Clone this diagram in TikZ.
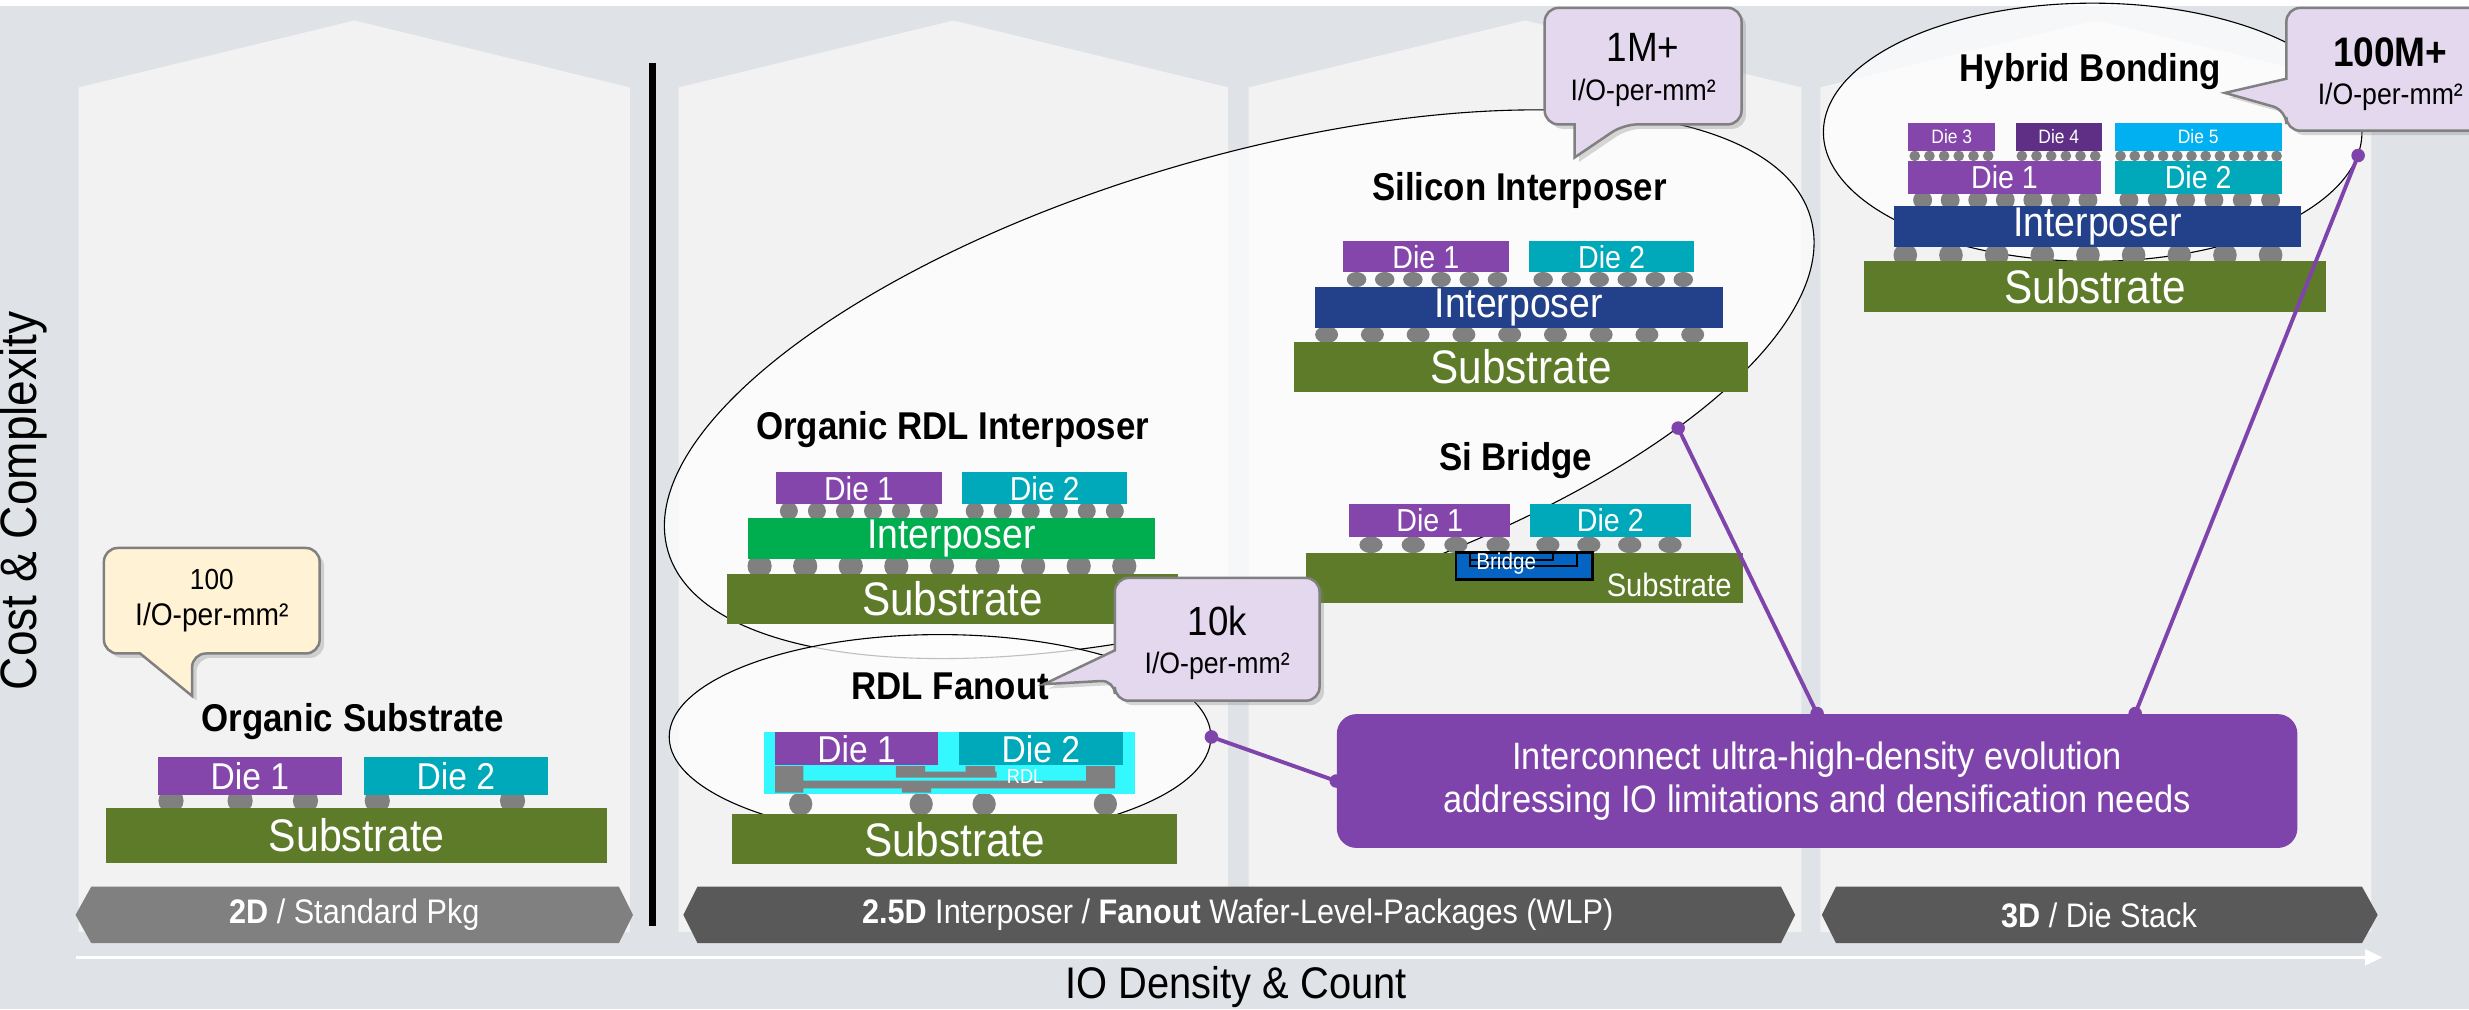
\documentclass[tikz,border=0pt]{standalone}
\usepackage{fontspec}
\setmainfont[FakeStretch=0.9]{Liberation Sans}
\usepackage{xcolor}
\usepackage{tikz}
\usetikzlibrary{shapes, arrows.meta, positioning, fit, shadows}

\definecolor{bggray}{HTML}{DFE2E6}
\definecolor{panelgray}{HTML}{F2F2F2}
\definecolor{diepurple}{HTML}{8446AA}
\definecolor{dieteal}{HTML}{00A9B9}
\definecolor{subgreen}{HTML}{5E7B29}
\definecolor{orggreen}{HTML}{00AE4F}
\definecolor{sinavy}{HTML}{23418A}
\definecolor{bumpgray}{HTML}{808080}
\definecolor{rdlcyan}{HTML}{33F9FF}
\definecolor{bridgeblue}{HTML}{0563C1}
\definecolor{dieplum}{HTML}{5F2F85}
\definecolor{diesky}{HTML}{00B0F0}
\definecolor{lavender}{HTML}{E3D8EE}
\definecolor{cream}{HTML}{FFF2D5}
\definecolor{linkpurple}{HTML}{7F44AB}
\definecolor{bandgray}{HTML}{808080}
\definecolor{banddark}{HTML}{595959}

\newcommand{\sz}[1]{\fontsize{#1}{#1}\selectfont}

\tikzset{
  chip/.style={inner sep=0pt},
  tag/.style n args={2}{label={[text=white, inner sep=0pt, font=\sz{#1}]center:#2}},
  heading/.style={font=\bfseries\sz{14}},
  bump/.style={fill=bumpgray},
  panel/.style={fill=panelgray},
  oval/.style={ellipse, draw, line width=0.4pt, fill=white, fill opacity=0.75, inner sep=0pt},
  balloon/.style={draw=black!50, line width=0.9pt,
    drop shadow={shadow xshift=1.6pt, shadow yshift=-1.6pt, opacity=0.3}},
  link/.style={draw=linkpurple, line width=1.4pt},
  banner/.style={text=white, font=\sz{12.3}},
}

\begin{document}
\begin{tikzpicture}[x=0.2mm, y=-0.2mm]
  \useasboundingbox (0,0) rectangle (1568,641);
  \clip (0,0) rectangle (1568,641);
  \fill[bggray] (0,0) rectangle (1568,641);
  \fill[white] (0,0) rectangle (1568,4);

  % columns with pointed roofs
  \foreach \l/\r in {50/400, 431/780, 793/1144, 1156/1506}
    \fill[panel] (\l,592) -- (\l,55.5) -- ({(\l+\r)/2},13) -- (\r,55.5) -- (\r,592) -- cycle;

  % 2D | 2.5D separator
  \draw[line width=2.6pt] (414.5,40) -- (414.5,588);

  % category bands
  \fill[bandgray] (48,581) -- (58,563) -- (393,563) -- (402,581) -- (393,599) -- (58,599) -- cycle;
  \fill[banddark] (434,581) -- (443,563) -- (1131,563) -- (1140,581) -- (1131,599) -- (443,599) -- cycle;
  \fill[banddark] (1157,581) -- (1166,563) -- (1500,563) -- (1510,581) -- (1500,599) -- (1166,599) -- cycle;
  \node[banner] (band2d) at (225,581) {\textbf{2D} / Standard Pkg};
  \node[banner] (band25d) at (786,581) {\textbf{2.5D} Interposer / \textbf{Fanout} Wafer-Level-Packages (WLP)};
  \node[banner] (band3d) at (1333,581) {\textbf{3D} / Die Stack};

  % axes
  \coordinate (origin) at (48,608);
  \coordinate (xend) at (1513,608);
  \draw[white, line width=1.1pt, -{Triangle[length=2.2mm, width=2mm]}] (origin) -- (xend);
  \node[font=\sz{16}] (xlabel) at (785,627) {IO Density \& Count};
  \node[font=\sz{18.5}, rotate=90] (ylabel) at (15,318) {Cost \& Complexity};

  % grouping ovals
  \node[oval, minimum width=151.2mm, minimum height=57.6mm, rotate=16.3] (bigoval) at (787,244) {};
  \node[oval, minimum width=68.8mm, minimum height=26mm] (fooval) at (597,468) {};
  \node[oval, minimum width=68.4mm, minimum height=32.8mm] (hboval) at (1329,84) {};

  % organic substrate
  \node[heading] (ostitle) at (224,458) {Organic Substrate};
  \foreach \x in {108.6,152.5,194,239.6,325.5}
    \fill[bump] (\x,508.5) circle [radius=8];
  \node[chip, fill=diepurple, fit={(100.4,481) (217,504.7)}, tag={13.5}{Die 1}] (osd1) {};
  \node[chip, fill=dieteal, fit={(231,481) (348,504.7)}, tag={13.5}{Die 2}] (osd2) {};
  \node[chip, fill=subgreen, fit={(67.5,513) (385.7,548)}, tag={16.5}{Substrate}] (ossub) {};

  % organic RDL interposer
  \node[heading] (rdtitle) at (605,273) {Organic RDL Interposer};
  \foreach \i in {0,...,5} {
    \fill[bump] ({501+17.8*\i},324.5) circle [radius=5.7];
    \fill[bump] ({619+17.8*\i},324.5) circle [radius=5.7];
  }
  \foreach \i in {0,...,8}
    \fill[bump] ({482.4+28.95*\i},359.5) circle [radius=7.7];
  \node[chip, fill=diepurple, fit={(493,300) (598,320)}, tag={12}{Die 1}] (rdd1) {};
  \node[chip, fill=dieteal, fit={(611,300) (716,320)}, tag={12}{Die 2}] (rdd2) {};
  \node[chip, fill=orggreen, fit={(475,329) (733.5,355)}, tag={15}{Interposer}] (rdint) {};
  \node[chip, fill=subgreen, fit={(462,364.5) (748,396)}, tag={17}{Substrate}] (rdsub) {};

  % RDL fanout
  \node[heading] (fotitle) at (603.5,436) {RDL Fanout};
  \foreach \x in {508.5,585,625,702}
    \fill[bump] (\x,510.6) circle [radius=7.4];
  \fill[rdlcyan] (485,465) rectangle (721,504);
  \node[chip, fill=diepurple, fit={(492,465) (596,486)}, tag={13.5}{Die 1}] (fod1) {};
  \node[chip, fill=dieteal, fit={(609,465) (713,486)}, tag={13.5}{Die 2}] (fod2) {};
  \fill[bumpgray] (492.2,486.5) rectangle (510.2,503.4)
    (492.2,495.8) rectangle (708.1,500.7)
    (572.8,495.8) rectangle (591.3,503.4)
    (569,486.5) rectangle (587.5,493.9)
    (587.5,490) rectangle (633,493.9)
    (613.3,486.5) rectangle (632,490)
    (689.7,486.5) rectangle (708.1,500.7);
  \node[text=white, inner sep=0pt, font=\sz{7.3}] (fordl) at (651,493.3) {RDL};
  \node[chip, fill=subgreen, fit={(465,517) (747.5,549)}, tag={17}{Substrate}] (fosub) {};

  % silicon interposer
  \node[heading] (sititle) at (965,121) {Silicon Interposer};
  \foreach \i in {0,...,5} {
    \fill[bump] ({861.5+17.9*\i},177.5) ellipse [x radius=6.2, y radius=4.8];
    \fill[bump] ({980+17.8*\i},177.5) ellipse [x radius=6.2, y radius=4.8];
  }
  \foreach \i in {0,...,8}
    \fill[bump] ({842.5+29.06*\i},212.5) ellipse [x radius=7.3, y radius=5.5];
  \node[chip, fill=diepurple, fit={(853,153) (958,173)}, tag={11.5}{Die 1}] (sid1) {};
  \node[chip, fill=dieteal, fit={(971,153) (1076,173)}, tag={11.5}{Die 2}] (sid2) {};
  \node[chip, fill=sinavy, fit={(835,182) (1094,208)}, tag={15}{Interposer}] (siint) {};
  \node[chip, fill=subgreen, fit={(822,217) (1110,249)}, tag={17}{Substrate}] (sisub) {};

  % Si bridge
  \node[heading] (brtitle) at (962.6,292.5) {Si Bridge};
  \foreach \x in {870.7,897.5,924.6,951.4,983,1009,1035,1060.6}
    \fill[bump] (\x,346) ellipse [x radius=7.4, y radius=5.3];
  \node[chip, fill=diepurple, fit={(857,320) (959,341)}, tag={11.5}{Die 1}] (brd1) {};
  \node[chip, fill=dieteal, fit={(971.7,320) (1073.7,341)}, tag={11.5}{Die 2}] (brd2) {};
  \node[chip, fill=subgreen, fit={(829.4,351) (1106.7,383)}] (brsub) {};
  \node[text=white, inner sep=0pt, font=\sz{11.7}] (brsubtext) at (1060,371.5) {Substrate};
  \node[chip, fill=bridgeblue, draw=black, line width=1pt, fit={(924.7,351) (1011.5,368)}] (brbridge) {};
  \draw[line width=0.7pt] (933.6,352) -- (933.6,359.5) -- (1001.3,359.5) -- (1001.3,352);
  \draw[line width=0.7pt] (933.6,355.6) -- (986.5,355.6) -- (986.5,352);
  \node[text=white, inner sep=0pt, font=\sz{8.3}] (brtext) at (956.5,358.2) {Bridge};

  % hybrid bonding
  \node[heading] (hbtitle) at (1327.6,45.5) {Hybrid Bonding};
  \foreach \i in {0,...,5} {
    \fill[bump] ({1216+9.32*\i},99) circle [radius=3.4];
    \fill[bump] ({1284+9.32*\i},99) circle [radius=3.4];
  }
  \foreach \i in {0,...,11}
    \fill[bump] ({1346.7+9.01*\i},99) circle [radius=3.4];
  \foreach \i in {0,...,6}
    \fill[bump] ({1221+17.5*\i},127) circle [radius=6];
  \foreach \i in {0,...,5}
    \fill[bump] ({1352+18*\i},127) circle [radius=6];
  \foreach \i in {0,...,8}
    \fill[bump] ({1210+29*\i},162) circle [radius=7.5];
  \node[chip, fill=diepurple, fit={(1212,78) (1267,96)}, tag={7}{Die 3}] (hbd3) {};
  \node[chip, fill=dieplum, fit={(1280,78) (1335,96)}, tag={7}{Die 4}] (hbd4) {};
  \node[chip, fill=diesky, fit={(1343,78) (1449,96)}, tag={7}{Die 5}] (hbd5) {};
  \node[chip, fill=diepurple, fit={(1212,102) (1334,123)}, tag={11.5}{Die 1}] (hbd1) {};
  \node[chip, fill=dieteal, fit={(1343,102) (1449,123)}, tag={11.5}{Die 2}] (hbd2) {};
  \node[chip, fill=sinavy, fit={(1203,131) (1461,157)}, tag={15}{Interposer}] (hbint) {};
  \node[chip, fill=subgreen, fit={(1184,166) (1477,198)}, tag={17}{Substrate}] (hbsub) {};

  % evolution note and its links
  \node[fill=linkpurple, text=white, rounded corners=2.5mm, minimum width=122mm, minimum height=17mm,
    align=center, font=\fontsize{13.8}{15.5}\selectfont] (evo) at (1154,496)
    {Interconnect ultra-high-density evolution\\addressing IO limitations and densification needs};
  \draw[link] (fooval.east) -- (evo.west);
  \draw[link] (bigoval.-22) -- (evo.north);
  \draw[link] (hboval.-5) -- ([xshift=40.4mm]evo.north);
  \foreach \p in {fooval.east, bigoval.-22, hboval.-5, evo.west, evo.north}
    \fill[linkpurple] (\p) circle [radius=4.3];
  \fill[linkpurple] ([xshift=40.4mm]evo.north) circle [radius=4.3];

  % density balloons
  \path[balloon, fill=cream] (66,381) [rounded corners=5pt] -- (66,348) -- (203,348) -- (203,415)
    -- (122,415) [sharp corners] -- (122,442) -- (89,415) [rounded corners=5pt] -- (66,415) -- cycle;
  \node[align=center, font=\fontsize{11.3}{13}\selectfont] (c100) at (134.5,381.5)
    {{\sz{10.5}100}\\I/O-per-mm²};

  \path[balloon, fill=lavender] (773,367) [rounded corners=5pt] -- (838,367) -- (838,445) -- (708,445)
    -- (708,432) [sharp corners] -- (663,434.5) -- (708,413) [rounded corners=5pt] -- (708,367) -- cycle;
  \node[align=center, font=\fontsize{10.7}{13.7}\selectfont] (c10k) at (773,408)
    {{\sz{14.7}10k}\\I/O-per-mm²};

  \path[balloon, fill=lavender] (981,42) [rounded corners=5pt] -- (981,5) -- (1106,5) -- (1106,79)
    -- (1031,79) [sharp corners] -- (1000,100) -- (1000,79) [rounded corners=5pt] -- (981,79) -- cycle;
  \node[align=center, font=\fontsize{10.7}{14.2}\selectfont] (c1m) at (1043.5,44.5)
    {{\sz{14.8}1M+}\\I/O-per-mm²};

  \path[balloon, fill=lavender] (1518,5) [rounded corners=5pt] -- (1584,5) -- (1584,83) -- (1452,83)
    -- (1452,70) [sharp corners] -- (1413,59) -- (1452,50) [rounded corners=5pt] -- (1452,5) -- cycle;
  \node[align=center, font=\fontsize{10.7}{13.7}\selectfont] (c100m) at (1518,47)
    {{\bfseries\sz{14.9}100M+}\\I/O-per-mm²};
\end{tikzpicture}
\end{document}
